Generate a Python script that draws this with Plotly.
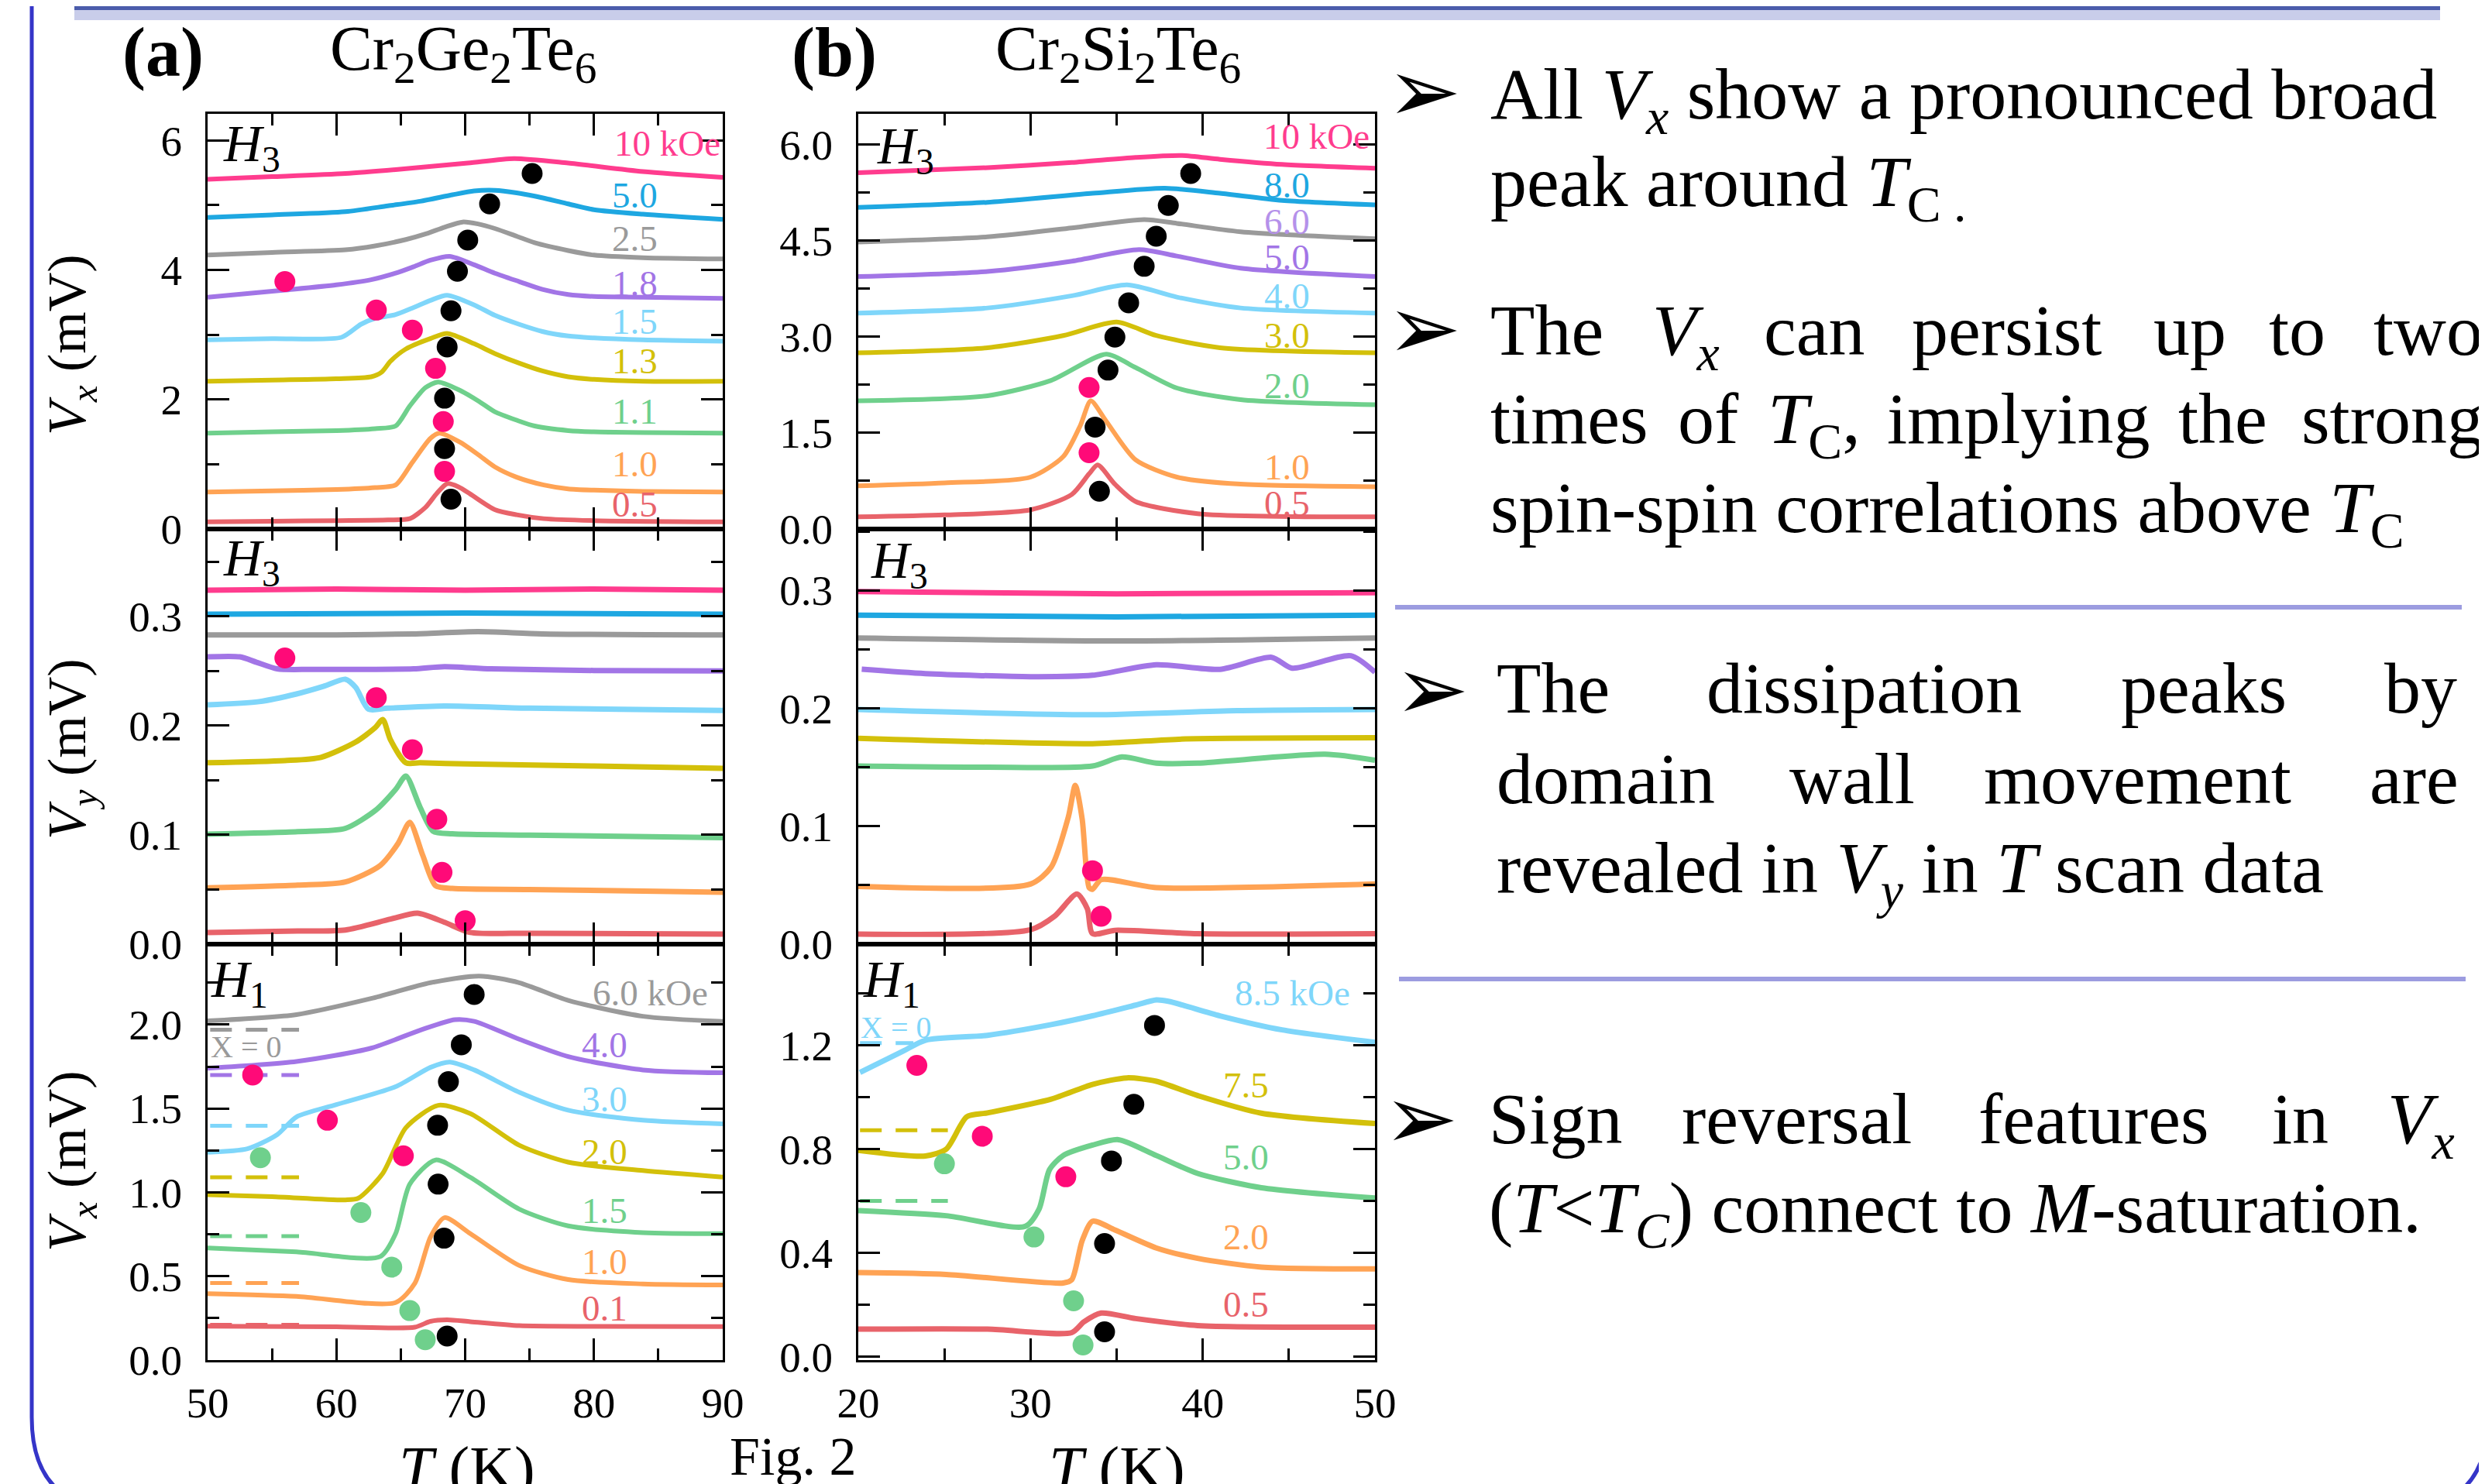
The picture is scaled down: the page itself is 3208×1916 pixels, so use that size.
import plotly.graph_objects as go

W, H = 3208, 1916

# ---------------- colours ----------------
PINK = '#ff3c8e'; BLUE = '#1ea7e1'; GRAY = '#9a9a9a'; PURPLE = '#a275e6'; LAV = '#b591ea'
LBLUE = '#7fd6fa'; OLIVE = '#d3c00a'; GREEN = '#6fd08c'; ORANGE = '#ffa354'; RED = '#e8636a'
DOT_PINK = '#ff0a78'; DOT_GREEN = '#6fd08c'; DOT_BLACK = '#000000'

# ================= (a) Cr2Ge2Te6, top: Vx, H3 =================
A1_FIELDS = ["10 kOe", "5.0", "2.5", "1.8", "1.5", "1.3", "1.1", "1.0", "0.5"]
A1_T_0 = [50, 55, 60.7, 64.6, 70.2, 73.8, 78, 83.8, 90]
A1_V_0 = [5.40, 5.44, 5.49, 5.55, 5.65, 5.72, 5.65, 5.52, 5.43]
A1_T_1 = [50, 55, 60.7, 64, 66.5, 69, 70.7, 72.3, 74, 76.1, 78, 80, 83.8, 90]
A1_V_1 = [4.81, 4.85, 4.90, 4.99, 5.06, 5.16, 5.22, 5.23, 5.19, 5.11, 5.02, 4.93, 4.86, 4.78]
A1_T_2 = [50, 55, 60.7, 63, 65.4, 67, 68.4, 69.8, 71, 72.3, 74, 75.4, 78, 80, 83.8, 90]
A1_V_2 = [4.23, 4.27, 4.31, 4.37, 4.47, 4.56, 4.66, 4.74, 4.71, 4.64, 4.52, 4.42, 4.30, 4.23, 4.19, 4.17]
A1_T_3 = [50, 56, 60, 62.7, 64.6, 66, 67.3, 68.8, 70.7, 72.3, 74.2, 76, 78, 80, 83.8, 90]
A1_V_3 = [3.58, 3.69, 3.77, 3.85, 3.95, 4.05, 4.15, 4.21, 4.08, 3.95, 3.82, 3.70, 3.62, 3.59, 3.58, 3.56]
A1_T_4 = [50, 55, 60.4, 61.9, 63, 64.6, 66, 67.3, 68.6, 70.7, 72.3, 74.2, 76, 78, 80, 83.8, 90]
A1_V_4 = [2.92, 2.94, 2.96, 3.16, 3.25, 3.31, 3.42, 3.53, 3.61, 3.46, 3.30, 3.16, 3.05, 2.98, 2.95, 2.92, 2.90]
A1_T_5 = [50, 55, 60, 62.7, 63.5, 64.2, 65.4, 67.3, 68.6, 70.7, 72.3, 74.2, 76, 78, 80, 83.8, 90]
A1_V_5 = [2.28, 2.30, 2.32, 2.35, 2.42, 2.59, 2.78, 2.94, 3.02, 2.86, 2.71, 2.56, 2.44, 2.35, 2.31, 2.28, 2.28]
A1_T_6 = [50, 55, 60, 63, 64.6, 65.7, 66.9, 67.9, 69.6, 71, 72.3, 74, 75.4, 78, 80, 90]
A1_V_6 = [1.48, 1.50, 1.52, 1.55, 1.59, 1.90, 2.18, 2.27, 2.14, 1.98, 1.81, 1.68, 1.59, 1.52, 1.50, 1.48]
A1_T_7 = [50, 55, 60, 63, 64.6, 65.9, 67.3, 68.0, 69.6, 71, 72.3, 74, 76.1, 78, 80, 83.8, 90]
A1_V_7 = [0.57, 0.59, 0.61, 0.64, 0.68, 1.03, 1.40, 1.48, 1.34, 1.15, 0.96, 0.80, 0.68, 0.62, 0.60, 0.58, 0.57]
A1_T_8 = [50, 55, 60, 64, 65.7, 66.9, 67.8, 68.6, 69.5, 70.4, 72.3, 74, 76.1, 80, 90]
A1_V_8 = [0.11, 0.12, 0.13, 0.14, 0.16, 0.33, 0.55, 0.70, 0.65, 0.54, 0.30, 0.22, 0.16, 0.13, 0.11]
A1_BLACK_T = [75.2, 71.9, 70.2, 69.4, 68.9, 68.6, 68.4, 68.4, 68.9]
A1_BLACK_V = [5.49, 5.02, 4.46, 3.98, 3.37, 2.81, 2.02, 1.24, 0.46]
A1_PINK_T = [56.0, 63.1, 65.9, 67.7, 68.3, 68.4]
A1_PINK_V = [3.82, 3.38, 3.07, 2.48, 1.66, 0.89]
A1_LABEL_T = [85.7, 83.2, 83.2, 83.2, 83.2, 83.2, 83.2, 83.2, 83.2]
A1_LABEL_V = [5.95, 5.15, 4.48, 3.79, 3.21, 2.59, 1.82, 1.00, 0.38]

# ================= (a) middle: Vy, H3 =================
A2_T_0 = [50, 60, 70, 80, 90]
A2_V_0 = [0.324, 0.325, 0.324, 0.325, 0.324]
A2_T_1 = [50, 70, 90]
A2_V_1 = [0.302, 0.303, 0.302]
A2_T_2 = [50, 60, 66, 71, 76, 90]
A2_V_2 = [0.283, 0.283, 0.284, 0.286, 0.284, 0.283]
A2_T_3 = [50, 52.5, 53.8, 55.4, 58, 62, 66, 68.4, 72, 80, 90]
A2_V_3 = [0.263, 0.263, 0.258, 0.252, 0.2515, 0.2515, 0.252, 0.254, 0.252, 0.2505, 0.250]
A2_T_4 = [50, 54, 56.9, 59, 60.7, 61.5, 62.5, 64, 68.4, 75, 82, 90]
A2_V_4 = [0.219, 0.222, 0.229, 0.236, 0.2425, 0.235, 0.215, 0.216, 0.218, 0.216, 0.215, 0.214]
A2_T_5 = [50, 56, 58.8, 61.5, 63.0, 63.6, 64.2, 65.4, 66.5, 70, 80, 90]
A2_V_5 = [0.166, 0.168, 0.171, 0.185, 0.198, 0.2056, 0.187, 0.166, 0.166, 0.165, 0.163, 0.161]
A2_T_6 = [50, 57, 60.7, 63.05, 64.6, 65.4, 66.5, 67.5, 69, 75, 90]
A2_V_6 = [0.1006, 0.103, 0.106, 0.1226, 0.1416, 0.1538, 0.1253, 0.1035, 0.101, 0.0998, 0.0975]
A2_T_7 = [50, 57, 60.7, 63.4, 64.8, 65.7, 66.7, 67.7, 69, 75, 90]
A2_V_7 = [0.0515, 0.054, 0.057, 0.072, 0.0924, 0.1115, 0.0815, 0.0535, 0.051, 0.050, 0.0475]
A2_T_8 = [50, 57, 60.7, 64.2, 66.3, 68.4, 70.4, 75, 90]
A2_V_8 = [0.0107, 0.012, 0.013, 0.0229, 0.0284, 0.020, 0.0107, 0.0100, 0.0093]
A2_PINK_T = [56.0, 63.1, 65.9, 67.8, 68.2, 70.0]
A2_PINK_V = [0.262, 0.2256, 0.178, 0.1143, 0.0657, 0.0215]

# ================= (a) bottom: Vx, H1 =================
A3_FIELDS = ["6.0 kOe", "4.0", "3.0", "2.0", "1.5", "1.0", "0.1"]
A3_T_0 = [50, 56.9, 62.7, 67.3, 71.1, 74.2, 78.0, 83.8, 90]
A3_V_0 = [2.023, 2.06, 2.156, 2.25, 2.29, 2.25, 2.145, 2.05, 2.019]
A3_T_1 = [50, 56.9, 62.7, 66.5, 69.2, 70.7, 74.2, 78.0, 83.8, 90]
A3_V_1 = [1.74, 1.78, 1.86, 1.967, 2.03, 2.02, 1.913, 1.81, 1.73, 1.713]
A3_T_2 = [50, 53.1, 55.4, 56.9, 60.0, 64.6, 67.3, 68.8, 70.7, 74.2, 78.0, 83.8, 90]
A3_V_2 = [1.239, 1.26, 1.344, 1.45, 1.523, 1.63, 1.745, 1.777, 1.73, 1.597, 1.49, 1.43, 1.408]
A3_T_3 = [50, 55, 60.7, 61.7, 63.6, 65.4, 67.9, 70.4, 74.2, 78.0, 83.8, 90]
A3_V_3 = [0.986, 0.975, 0.955, 0.965, 1.113, 1.386, 1.519, 1.47, 1.281, 1.18, 1.13, 1.091]
A3_T_4 = [50, 56.9, 63.4, 64.6, 65.7, 67.7, 70.4, 74.2, 78.0, 83.8, 90]
A3_V_4 = [0.669, 0.645, 0.617, 0.754, 1.049, 1.193, 1.09, 0.90, 0.80, 0.76, 0.754]
A3_T_5 = [50, 56.9, 64.6, 66.1, 67.3, 68.4, 70.4, 74.2, 78.0, 83.8, 90]
A3_V_5 = [0.396, 0.38, 0.343, 0.459, 0.733, 0.849, 0.754, 0.564, 0.48, 0.454, 0.448]
A3_T_6 = [50, 60, 66.1, 67.3, 68.6, 70.4, 74.2, 80, 90]
A3_V_6 = [0.202, 0.199, 0.196, 0.231, 0.24, 0.229, 0.205, 0.201, 0.20]
A3_DASH_T = [50.2, 57.1]
A3_DASH_V = [1.97, 1.70, 1.397, 1.09, 0.739, 0.459, 0.21]
A3_BLACK_T = [70.7, 69.7, 68.7, 67.86, 67.9, 68.36, 68.6]
A3_BLACK_V = [2.18, 1.88, 1.66, 1.40, 1.049, 0.727, 0.143]
A3_PINK_T = [53.5, 59.3, 65.2]
A3_PINK_V = [1.70, 1.43, 1.218]
A3_GREEN_T = [54.1, 61.9, 64.3, 65.7, 66.9]
A3_GREEN_V = [1.207, 0.88, 0.554, 0.295, 0.121]
A3_LABEL_T = [84.4, 80.8, 80.8, 80.8, 80.8, 80.8, 80.8]
A3_LABEL_V = [2.19, 1.88, 1.556, 1.243, 0.89, 0.586, 0.311]

# ================= (b) Cr2Si2Te6, top: Vx, H3 =================
B1_FIELDS = ["10 kOe", "8.0", "6.0", "5.0", "4.0", "3.0", "2.0", "1.0", "0.5"]
B1_T_0 = [20, 27.5, 32.4, 36.1, 38.8, 41.0, 44.6, 50]
B1_V_0 = [5.56, 5.64, 5.72, 5.80, 5.83, 5.77, 5.69, 5.63]
B1_T_1 = [20, 27.5, 33.6, 37.8, 41.0, 44.6, 50]
B1_V_1 = [5.02, 5.10, 5.24, 5.32, 5.24, 5.13, 5.06]
B1_T_2 = [20, 27.5, 32.4, 36.6, 38.5, 42.2, 50]
B1_V_2 = [4.48, 4.56, 4.70, 4.83, 4.77, 4.64, 4.53]
B1_T_3 = [20, 27.5, 32.4, 36.3, 38.5, 42.2, 50]
B1_V_3 = [3.94, 4.02, 4.18, 4.36, 4.26, 4.07, 3.94]
B1_T_4 = [20, 27.5, 32.4, 35.6, 38.5, 42.2, 50]
B1_V_4 = [3.37, 3.45, 3.64, 3.81, 3.62, 3.45, 3.37]
B1_T_5 = [20, 27.5, 31.9, 35.0, 37.3, 41.0, 50]
B1_V_5 = [2.75, 2.83, 3.02, 3.23, 3.02, 2.83, 2.75]
B1_T_6 = [20, 27.5, 31.2, 34.4, 36.1, 38.5, 42.2, 50]
B1_V_6 = [2.00, 2.08, 2.32, 2.73, 2.52, 2.20, 2.02, 1.94]
B1_T_7 = [20, 25, 30.0, 31.9, 32.9, 33.5, 34.4, 36.1, 38.5, 42.2, 50]
B1_V_7 = [0.675, 0.72, 0.81, 1.13, 1.62, 2.00, 1.68, 1.08, 0.81, 0.70, 0.66]
B1_T_8 = [20, 25, 30.0, 32.4, 33.4, 33.9, 34.9, 36.1, 39.7, 50]
B1_V_8 = [0.19, 0.22, 0.30, 0.54, 0.86, 1.00, 0.70, 0.43, 0.24, 0.19]
B1_BLACK_T = [39.3, 38.0, 37.3, 36.6, 35.7, 34.9, 34.5, 33.75, 34.0]
B1_BLACK_V = [5.55, 5.05, 4.57, 4.10, 3.53, 2.995, 2.48, 1.59, 0.59]
B1_PINK_T = [33.4, 33.4]
B1_PINK_V = [2.21, 1.19]
B1_LABEL_T = [46.6, 44.9, 44.9, 44.9, 44.9, 44.9, 44.9, 44.9, 44.9]
B1_LABEL_V = [6.13, 5.37, 4.80, 4.24, 3.64, 3.02, 2.24, 0.97, 0.405]

# ================= (b) middle: Vy, H3 =================
B2_T_0 = [20, 35, 50]
B2_V_0 = [0.299, 0.297, 0.298]
B2_T_1 = [20, 35, 50]
B2_V_1 = [0.279, 0.2775, 0.279]
B2_T_2 = [20, 35, 50]
B2_V_2 = [0.2596, 0.2571, 0.2596]
B2_T_3 = [20.2, 23.9, 30.0, 33.6, 37.3, 41.0, 44.0, 45.2, 48.6, 50]
B2_V_3 = [0.2331, 0.2294, 0.2268, 0.228, 0.2369, 0.233, 0.2432, 0.234, 0.2445, 0.2305]
B2_T_4 = [20, 33.6, 42, 50]
B2_V_4 = [0.199, 0.1945, 0.198, 0.199]
B2_T_5 = [20, 33.6, 39, 50]
B2_V_5 = [0.1746, 0.170, 0.174, 0.175]
B2_T_6 = [20, 27.5, 33.6, 35.3, 37.3, 39.7, 47.1, 50]
B2_V_6 = [0.151, 0.150, 0.151, 0.1587, 0.1535, 0.1535, 0.161, 0.156]
B2_T_7 = [20, 30.0, 31.2, 32.2, 32.6, 33.0, 33.4, 33.6, 34.1, 37.3, 50]
B2_V_7 = [0.0489, 0.051, 0.0653, 0.108, 0.1347, 0.106, 0.048, 0.0465, 0.0547, 0.048, 0.051]
B2_T_8 = [20, 30.0, 31.4, 32.7, 33.3, 33.6, 34.9, 39.7, 50]
B2_V_8 = [0.0086, 0.0122, 0.0237, 0.0426, 0.030, 0.0089, 0.0117, 0.0088, 0.0088]
B2_PINK_T = [33.6, 34.1]
B2_PINK_V = [0.0623, 0.0237]

# ================= (b) bottom: Vx, H1 =================
B3_FIELDS = ["8.5 kOe", "7.5", "5.0", "2.0", "0.5"]
B3_T_0 = [20.1, 22.6, 23.9, 27.5, 31.2, 33.6, 36.1, 37.3, 38.0, 41.0, 44.6, 50]
B3_V_0 = [1.096, 1.178, 1.22, 1.239, 1.28, 1.314, 1.355, 1.375, 1.37, 1.314, 1.26, 1.212]
B3_T_1 = [20, 23.9, 25.1, 26.3, 27.5, 31.2, 33.6, 35.6, 37.3, 39.7, 43.4, 50]
B3_V_1 = [0.796, 0.774, 0.80, 0.925, 0.94, 0.993, 1.05, 1.075, 1.062, 1.007, 0.939, 0.899]
B3_T_2 = [20, 25.1, 29.7, 30.5, 31.1, 31.9, 33.6, 35.1, 37.3, 39.7, 43.4, 50]
B3_V_2 = [0.564, 0.544, 0.503, 0.57, 0.721, 0.776, 0.816, 0.837, 0.776, 0.707, 0.652, 0.612]
B3_T_3 = [20, 25.1, 31.9, 32.4, 33.0, 33.6, 34.9, 37.3, 39.7, 43.4, 50]
B3_V_3 = [0.325, 0.318, 0.285, 0.298, 0.448, 0.523, 0.489, 0.42, 0.38, 0.346, 0.339]
B3_T_4 = [20, 27.5, 32.4, 33.1, 34.1, 36.1, 39.7, 50]
B3_V_4 = [0.107, 0.107, 0.094, 0.135, 0.169, 0.148, 0.121, 0.115]
B3_DASH_T = [[20.1, 23.2], [20.1, 25.2], [20.1, 25.2]]
B3_DASH_V = [1.209, 0.873, 0.601]
B3_BLACK_T = [37.2, 36.0, 34.7, 34.3, 34.3]
B3_BLACK_V = [1.277, 0.973, 0.755, 0.437, 0.097]
B3_PINK_T = [23.4, 27.2, 32.05]
B3_PINK_V = [1.123, 0.85, 0.694]
B3_GREEN_T = [25.0, 30.2, 32.5, 33.05]
B3_GREEN_V = [0.744, 0.462, 0.216, 0.046]
B3_LABEL_T = [45.2, 42.5, 42.5, 42.5, 42.5]
B3_LABEL_V = [1.403, 1.048, 0.769, 0.462, 0.203]

# ---------------- layout geometry (page pixels) ----------------
XA = (268, 933); XB = (1108, 1775)
ROWS = [(147, 683), (683, 1219), (1219, 1756)]
OFF = 8  # the HTML body margin shifts the figure by this many pixels

def fx(x): return (x - OFF) / W
def fy(y): return 1 - (y - OFF) / H

fig = go.Figure()

SERIF = 'Liberation Serif'

def add_curves(idx, Ts, Vs, colors, width):
    for T, V, c in zip(Ts, Vs, colors):
        fig.add_trace(go.Scatter(x=T, y=V, mode='lines', xaxis=f'x{idx}', yaxis=f'y{idx}',
                                 line=dict(color=c, width=width, shape='spline', smoothing=0.7),
                                 showlegend=False, hoverinfo='skip'))

def add_dots(idx, T, V, color):
    fig.add_trace(go.Scatter(x=T, y=V, mode='markers', xaxis=f'x{idx}', yaxis=f'y{idx}',
                             marker=dict(size=27, color=color, line=dict(width=0)),
                             showlegend=False, hoverinfo='skip', cliponaxis=False))

def add_dash(idx, T, V, color):
    fig.add_trace(go.Scatter(x=T, y=[V, V], mode='lines', xaxis=f'x{idx}', yaxis=f'y{idx}',
                             line=dict(color=color, width=5, dash='28px,18px'),
                             showlegend=False, hoverinfo='skip'))

A1_COL = [PINK, BLUE, GRAY, PURPLE, LBLUE, OLIVE, GREEN, ORANGE, RED]
A3_COL = [GRAY, PURPLE, LBLUE, OLIVE, GREEN, ORANGE, RED]
B1_COL = [PINK, BLUE, GRAY, PURPLE, LBLUE, OLIVE, GREEN, ORANGE, RED]
B1_LABEL_COL = [PINK, BLUE, LAV, PURPLE, LBLUE, OLIVE, GREEN, ORANGE, RED]
B3_COL = [LBLUE, OLIVE, GREEN, ORANGE, RED]

add_curves(1, [A1_T_0, A1_T_1, A1_T_2, A1_T_3, A1_T_4, A1_T_5, A1_T_6, A1_T_7, A1_T_8],
           [A1_V_0, A1_V_1, A1_V_2, A1_V_3, A1_V_4, A1_V_5, A1_V_6, A1_V_7, A1_V_8], A1_COL, 6)
add_dots(1, A1_PINK_T, A1_PINK_V, DOT_PINK)
add_dots(1, A1_BLACK_T, A1_BLACK_V, DOT_BLACK)

add_curves(2, [A2_T_0, A2_T_1, A2_T_2, A2_T_3, A2_T_4, A2_T_5, A2_T_6, A2_T_7, A2_T_8],
           [A2_V_0, A2_V_1, A2_V_2, A2_V_3, A2_V_4, A2_V_5, A2_V_6, A2_V_7, A2_V_8], A1_COL, 7)
add_dots(2, A2_PINK_T, A2_PINK_V, DOT_PINK)

for v, c in zip(A3_DASH_V, A3_COL):
    add_dash(3, A3_DASH_T, v, c)
add_curves(3, [A3_T_0, A3_T_1, A3_T_2, A3_T_3, A3_T_4, A3_T_5, A3_T_6],
           [A3_V_0, A3_V_1, A3_V_2, A3_V_3, A3_V_4, A3_V_5, A3_V_6], A3_COL, 6)
add_dots(3, A3_GREEN_T, A3_GREEN_V, DOT_GREEN)
add_dots(3, A3_PINK_T, A3_PINK_V, DOT_PINK)
add_dots(3, A3_BLACK_T, A3_BLACK_V, DOT_BLACK)

add_curves(4, [B1_T_0, B1_T_1, B1_T_2, B1_T_3, B1_T_4, B1_T_5, B1_T_6, B1_T_7, B1_T_8],
           [B1_V_0, B1_V_1, B1_V_2, B1_V_3, B1_V_4, B1_V_5, B1_V_6, B1_V_7, B1_V_8], B1_COL, 6)
add_dots(4, B1_PINK_T, B1_PINK_V, DOT_PINK)
add_dots(4, B1_BLACK_T, B1_BLACK_V, DOT_BLACK)

add_curves(5, [B2_T_0, B2_T_1, B2_T_2, B2_T_3, B2_T_4, B2_T_5, B2_T_6, B2_T_7, B2_T_8],
           [B2_V_0, B2_V_1, B2_V_2, B2_V_3, B2_V_4, B2_V_5, B2_V_6, B2_V_7, B2_V_8], B1_COL, 7)
add_dots(5, B2_PINK_T, B2_PINK_V, DOT_PINK)

for T, v, c in zip(B3_DASH_T, B3_DASH_V, [LBLUE, OLIVE, GREEN]):
    add_dash(6, T, v, c)
add_curves(6, [B3_T_0, B3_T_1, B3_T_2, B3_T_3, B3_T_4],
           [B3_V_0, B3_V_1, B3_V_2, B3_V_3, B3_V_4], B3_COL, 7)
add_dots(6, B3_GREEN_T, B3_GREEN_V, DOT_GREEN)
add_dots(6, B3_PINK_T, B3_PINK_V, DOT_PINK)
add_dots(6, B3_BLACK_T, B3_BLACK_V, DOT_BLACK)

# ---------------- axes ----------------
AXIS_BASE = dict(showline=True, linecolor='black', linewidth=3, mirror='ticks', ticks='inside',
                 ticklen=28, tickwidth=3, tickcolor='black', showgrid=False, zeroline=False,
                 automargin=False,
                 tickfont=dict(family=SERIF, size=55, color='black'))

def minor(d):
    return dict(ticks='inside', ticklen=15, tickwidth=3, tickcolor='black', dtick=d, showgrid=False)

panel_specs = [
    (1, XA, 0, [50, 90], [0, 6.41], 2, 1, 'd', False),
    (2, XA, 1, [50, 90], [0, 0.38], 0.1, 0.05, '.1f', False),
    (3, XA, 2, [50, 90], [0, 2.48], 0.5, 0.25, '.1f', True),
    (4, XB, 0, [20, 50], [0, 6.48], 1.5, 0.75, '.1f', False),
    (5, XB, 1, [20, 50], [0, 0.352], 0.1, 0.05, '.1f', False),
    (6, XB, 2, [20, 50], [-0.012, 1.59], 0.4, 0.2, '.1f', True),
]
lay = {}
for idx, xp, row, xr, yr, ydt, ymn, yfmt, showx in panel_specs:
    r0, r1 = ROWS[row]
    lay[f'xaxis{idx}'] = dict(AXIS_BASE, domain=[fx(xp[0]), fx(xp[1])], anchor=f'y{idx}', range=xr,
                              dtick=10, tick0=0, minor=minor(5), showticklabels=showx,
                              ticklabelstandoff=5)
    lay[f'yaxis{idx}'] = dict(AXIS_BASE, domain=[fy(r1), fy(r0)], anchor=f'x{idx}', range=yr,
                              dtick=ydt, tick0=0, minor=minor(ymn), tickformat=yfmt,
                              ticklabelstandoff=19)

ann = []

def label(idx, T, V, texts, colors, size=47):
    for t, v, s, c in zip(T, V, texts, colors):
        ann.append(dict(x=t, y=v, xref=f'x{idx}', yref=f'y{idx}', text=s, showarrow=False,
                        xanchor='center', yanchor='middle',
                        font=dict(family=SERIF, size=size, color=c)))

label(1, A1_LABEL_T, A1_LABEL_V, A1_FIELDS, A1_COL)
label(3, A3_LABEL_T, A3_LABEL_V, A3_FIELDS, A3_COL)
label(4, B1_LABEL_T, B1_LABEL_V, B1_FIELDS, B1_LABEL_COL)
label(6, B3_LABEL_T, B3_LABEL_V, B3_FIELDS, B3_COL)
label(3, [52.95], [1.87], ["X = 0"], [GRAY], size=40)
label(6, [22.2], [1.27], ["X = 0"], [LBLUE], size=40)

def ptext(x, y, s, size, xanchor='left', yanchor='top', color='black', family=SERIF, angle=0):
    ann.append(dict(x=fx(x), y=fy(y), xref='paper', yref='paper', text=s, showarrow=False,
                    xanchor=xanchor, yanchor=yanchor, textangle=angle,
                    font=dict(family=family, size=size, color=color)))

# H labels (top of text box)
HS = 68
for x, ycap in [(286, 162), (286, 697), (270, 1241), (1130, 165), (1122, 700), (1112, 1241)]:
    base = ycap + 0.66 * HS
    ptext(x, base - 0.89 * HS - 1, '<i>H</i><sub>%s</sub>' % ('1' if ycap > 1200 else '3'), HS)

# titles
ptext(156, 97 - 0.89 * 90 - 1, '<b>(a)</b>', 90)
ptext(1020, 97 - 0.89 * 90 - 1, '<b>(b)</b>', 90)
ptext(424, 89 - 0.89 * 82 - 1, 'Cr<sub>2</sub>Ge<sub>2</sub>Te<sub>6</sub>', 82)
ptext(1283, 89 - 0.89 * 82 - 1, 'Cr<sub>2</sub>Si<sub>2</sub>Te<sub>6</sub>', 82)
ptext(940, 1903 - 0.89 * 70 - 1, 'Fig. 2', 70)

# axis titles
ptext(603, 1922 - 0.89 * 80 - 1, '<i>T</i> (K)', 80, xanchor='center')
ptext(1442, 1922 - 0.89 * 80 - 1, '<i>T</i> (K)', 80, xanchor='center')
for yc, sub in [(445, 'x'), (967, 'y'), (1499, 'x')]:
    ptext(92, yc, '<i>V</i><sub><i>%s</i></sub> (mV)' % sub, 70, xanchor='center', yanchor='middle', angle=-90)

# right-hand text
FS = 94
RIGHT_WORDS = [
    (1922, 152, 'All <i>V</i><sub><i>x</i></sub> show a pronounced broad'),
    (1922, 265, 'peak around <i>T</i><sub>C .</sub>'),
    (1922, 457, 'The'), (2131, 457, '<i>V</i><sub><i>x</i></sub>'), (2275, 457, 'can'),
    (2466, 457, 'persist'), (2778, 457, 'up'), (2927, 457, 'to'), (3062, 457, 'two'),
    (1922, 571, 'times'), (2164, 571, 'of'), (2280, 571, '<i>T</i><sub>C</sub>,'),
    (2434, 571, 'implying'), (2810, 571, 'the'), (2969, 571, 'strong'),
    (1922, 686, 'spin-spin correlations above <i>T</i><sub>C</sub>'),
    (1930, 919, 'The'), (2201, 919, 'dissipation'), (2736, 919, 'peaks'), (3076, 919, 'by'),
    (1930, 1036, 'domain'), (2308, 1036, 'wall'), (2559, 1036, 'movement'), (3057, 1036, 'are'),
    (1930, 1151, 'revealed in <i>V</i><sub><i>y</i></sub> in <i>T</i> scan data'),
    (1920, 1475, 'Sign'), (2169, 1475, 'reversal'), (2552, 1475, 'features'), (2931, 1475, 'in'),
    (3080, 1475, '<i>V</i><sub><i>x</i></sub>'),
    (1920, 1590, '(<i>T</i>&lt;<i>T</i><sub><i>C</i></sub>) connect to <i>M</i>-saturation.'),
]
for x, base, s in RIGHT_WORDS:
    ptext(x, base - 0.89 * FS - 1, s, FS)

for x, y in [(1838, 117), (1838, 423), (1848, 889), (1834, 1443)]:
    ptext(x, y, '\u27a2', 115, xanchor='center', yanchor='middle', family='DejaVu Sans')

# ---------------- decorative shapes ----------------
shapes = []
L, R, B, T0, RAD = 41, 3212, 1950, -30, 120
path = (f'M {fx(L)},{fy(T0)} L {fx(L)},{fy(B - RAD)} Q {fx(L)},{fy(B)} {fx(L + RAD)},{fy(B)} '
        f'L {fx(R - RAD)},{fy(B)} Q {fx(R)},{fy(B)} {fx(R)},{fy(B - RAD)} L {fx(R)},{fy(T0)}')
shapes.append(dict(type='path', path=path, xref='paper', yref='paper',
                   line=dict(color='#3535c8', width=5)))
shapes.append(dict(type='rect', xref='paper', yref='paper', x0=fx(96), x1=fx(3150), y0=fy(26), y1=fy(13),
                   fillcolor='#c9cdea', line=dict(width=0), layer='below'))
shapes.append(dict(type='rect', xref='paper', yref='paper', x0=fx(96), x1=fx(3150), y0=fy(13), y1=fy(-5),
                   fillcolor='#4b5cab', line=dict(width=0)))
shapes.append(dict(type='line', xref='paper', yref='paper', x0=fx(1801), x1=fx(3178), y0=fy(784), y1=fy(784),
                   line=dict(color='#9c9ce0', width=6)))
shapes.append(dict(type='line', xref='paper', yref='paper', x0=fx(1806), x1=fx(3183), y0=fy(1264), y1=fy(1264),
                   line=dict(color='#9c9ce0', width=6)))

fig.update_layout(template='none', width=W, height=H, margin=dict(l=0, r=0, t=0, b=0, pad=0, autoexpand=False),
                  paper_bgcolor='white', plot_bgcolor='white', showlegend=False,
                  annotations=ann, shapes=shapes, **lay)

fig.write_html('out.html')
